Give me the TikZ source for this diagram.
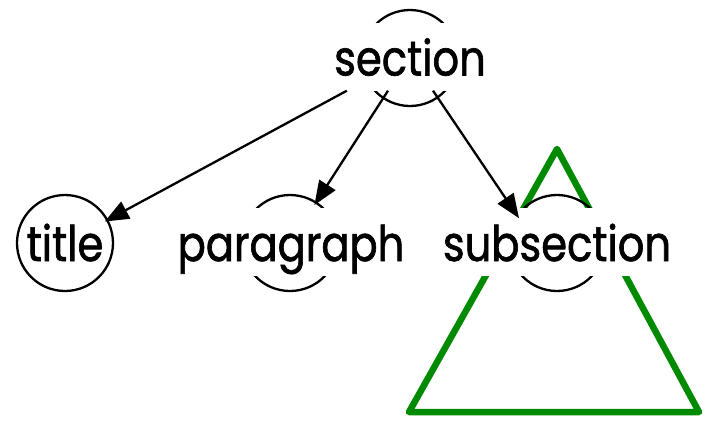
\documentclass[tikz,border=0pt]{standalone}
\usepackage{fontspec}
\setmainfont[FakeStretch=0.85,FakeBold=1.3]{Poppins}
\usetikzlibrary{arrows.meta}
\definecolor{treegreen}{RGB}{0,138,0}
\begin{document}
\begin{tikzpicture}[x=1pt,y=-1pt,
  ring/.style={circle,draw,line width=2.3pt,minimum size=96pt,inner sep=0pt},
  lbl/.style={fill=white,inner xsep=4pt,inner ysep=0pt,text height=53pt,text depth=15pt,font=\fontsize{49}{52}\selectfont},
  link/.style={-{Triangle[length=24pt,width=19pt]},line width=2.3pt,shorten >=-4pt}]
\useasboundingbox (0,0) rectangle (705,421);
\draw[treegreen,line width=6.5pt,line join=round] (557,149) coordinate (apex) -- (409,412) coordinate (bl) -- (699,412) coordinate (br) -- cycle;
\node[ring] (c-sec) at (410,58) {};
\node[ring] (c-title) at (65,243) {};
\node[ring] (c-par) at (290,243) {};
\node[ring] (c-sub) at (557,243) {};
\node[lbl] (t-sec) at (410,56.5) {section};
\node[lbl] (t-par) at (291,242) {paragraph};
\node[lbl] (t-sub) at (557,242) {subsection};
\node[lbl,fill=none] (t-title) at (65,242) {title};
\draw[link] (t-sec) -- (c-title);
\draw[link] (t-sec) -- (c-par);
\draw[link] (t-sec) -- (c-sub.145);
\end{tikzpicture}
\end{document}
